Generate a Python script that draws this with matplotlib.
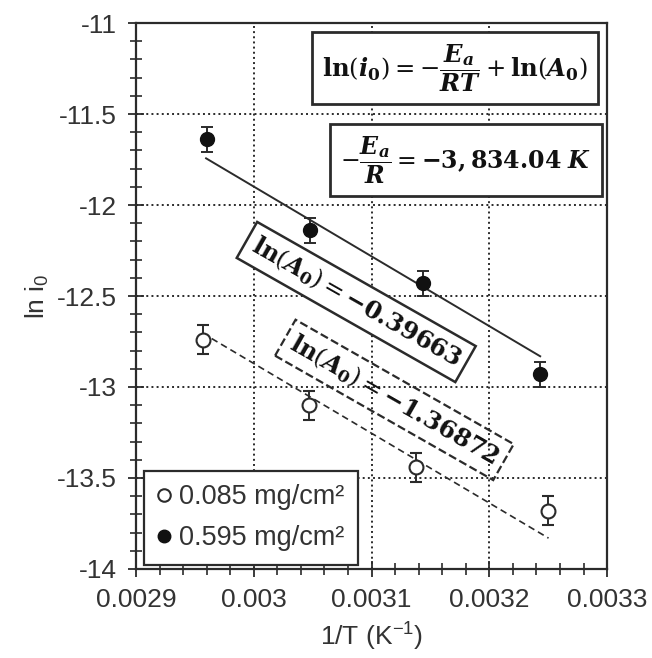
import matplotlib
matplotlib.use("Agg")
import matplotlib.pyplot as plt
import numpy as np
from matplotlib.lines import Line2D
from matplotlib.ticker import MultipleLocator

plt.rcParams["font.family"] = ["Liberation Sans", "DejaVu Sans"]
plt.rcParams["mathtext.fontset"] = "dejavuserif"

# 1/T (K^-1)
inv_t_low = [0.002957, 0.003047, 0.003138, 0.003250]
inv_t_high = [0.002960, 0.003048, 0.003144, 0.003243]
# ln i0
ln_i0_low = [-12.74, -13.10, -13.44, -13.68]
ln_i0_high = [-11.64, -12.14, -12.43, -12.93]
err_low = [0.08, 0.08, 0.08, 0.08]
err_high = [0.07, 0.07, 0.07, 0.07]

labels = ["0.085 mg/cm²", "0.595 mg/cm²"]

# Arrhenius fit: ln(i0) = slope * (1/T) + ln(A0)
slope = -3834.04
ln_a0_high = -0.39663
ln_a0_low = -1.36872
fit_x_high = [0.0029595, 0.0032432]
fit_x_low = [0.0029643, 0.0032503]

INK = "#2b2b2b"

fig = plt.figure(figsize=(6.52, 6.58), dpi=100)
ax = fig.add_axes([0.2086, 0.1353, 0.7225, 0.8297])

# fit lines
fx = np.array(fit_x_high)
ax.plot(fx, slope * fx + ln_a0_high, color=INK, lw=1.4, zorder=2)
fx = np.array(fit_x_low)
ax.plot(fx, slope * fx + ln_a0_low, color=INK, lw=1.2, ls=(0, (4, 2.5)), zorder=2)

# data
ax.errorbar(inv_t_low, ln_i0_low, yerr=err_low, fmt="o", ms=10, mfc="white",
            mec=INK, mew=1.5, ecolor=INK, elinewidth=1.4, capsize=4, capthick=1.4, zorder=4)
ax.errorbar(inv_t_high, ln_i0_high, yerr=err_high, fmt="o", ms=10, mfc="#111111",
            mec="#111111", ecolor=INK, elinewidth=1.4, capsize=4, capthick=1.4, zorder=4)

ax.set_xlim(0.0029, 0.0033)
ax.set_ylim(-14, -11)
ax.xaxis.set_major_locator(MultipleLocator(0.0001))
ax.xaxis.set_minor_locator(MultipleLocator(0.00002))
ax.yaxis.set_major_locator(MultipleLocator(0.5))
ax.yaxis.set_minor_locator(MultipleLocator(0.1))
ax.set_xticks([0.0029, 0.003, 0.0031, 0.0032, 0.0033])
ax.set_xticklabels(["0.0029", "0.003", "0.0031", "0.0032", "0.0033"])
ax.set_yticks([-11, -11.5, -12, -12.5, -13, -13.5, -14])
ax.set_yticklabels(["-11", "-11.5", "-12", "-12.5", "-13", "-13.5", "-14"])
ax.tick_params(which="major", direction="inout", length=12, width=1.3, colors=INK,
               labelsize=19, labelcolor="#333333", pad=8)
ax.tick_params(which="minor", direction="inout", length=8, width=1.2, colors=INK)
ax.grid(True, which="major", color=INK, ls=":", lw=1.4)
for s in ax.spines.values():
    s.set_color(INK)
    s.set_linewidth(1.6)

ax.set_xlabel("1/T (K$^{\\mathregular{-1}}$)", fontsize=19, color="#333333", labelpad=6)
ax.set_ylabel("ln i$_{\\mathregular{0}}$", fontsize=19, color="#333333", labelpad=4)

# equation boxes
ax.text(0.0031706, -11.247,
        r"$\mathbf{ln}(\mathbfit{i}_\mathbf{0}) = -\dfrac{\mathbfit{E}_\mathbfit{a}}{\mathbfit{RT}} + \mathbf{ln}(\mathbfit{A}_\mathbf{0})$",
        fontsize=17.5, ha="center", va="center", color="#111111", zorder=6,
        bbox=dict(boxstyle="square,pad=0.42", fc="white", ec=INK, lw=2))
ax.text(0.0031800, -11.753,
        r"$-\dfrac{\mathbfit{E}_\mathbfit{a}}{\mathbfit{R}} = \mathbf{-3,834.04}\ \mathbfit{K}$",
        fontsize=17, ha="center", va="center", color="#111111", zorder=6,
        bbox=dict(boxstyle="square,pad=0.45", fc="white", ec=INK, lw=2))

ax.text(0.003087, -12.533, r"$\mathbf{ln}(\mathbfit{A}_\mathbf{0}) = \mathbf{-0.39663}$",
        fontsize=17.5, ha="center", va="center", rotation=-29.6, rotation_mode="anchor",
        color="#111111", zorder=6,
        bbox=dict(boxstyle="square,pad=0.3", fc="white", ec=INK, lw=1.8))
ax.text(0.0031194, -13.071, r"$\mathbf{ln}(\mathbfit{A}_\mathbf{0}) = \mathbf{-1.36872}$",
        fontsize=17.5, ha="center", va="center", rotation=-29.7, rotation_mode="anchor",
        color="#111111", zorder=6,
        bbox=dict(boxstyle="square,pad=0.3", fc="none", ec=INK, lw=1.6, ls="--"))

handles = [
    Line2D([], [], marker="o", ls="none", ms=9, mfc="white", mec=INK, mew=1.5),
    Line2D([], [], marker="o", ls="none", ms=9, mfc="#111111", mec="#111111"),
]
leg = ax.legend(handles, labels, loc="lower left", bbox_to_anchor=(0.008, 0.0),
                fontsize=19.5, frameon=True, fancybox=False, handlelength=0.5,
                handletextpad=0.3, borderpad=0.5, labelspacing=0.55,
                borderaxespad=0.15)
leg.get_frame().set_edgecolor(INK)
leg.get_frame().set_linewidth(1.6)
leg.get_frame().set_alpha(1)
for t in leg.get_texts():
    t.set_color("#333333")
leg.set_zorder(7)

fig.savefig("out.png", dpi=100)
